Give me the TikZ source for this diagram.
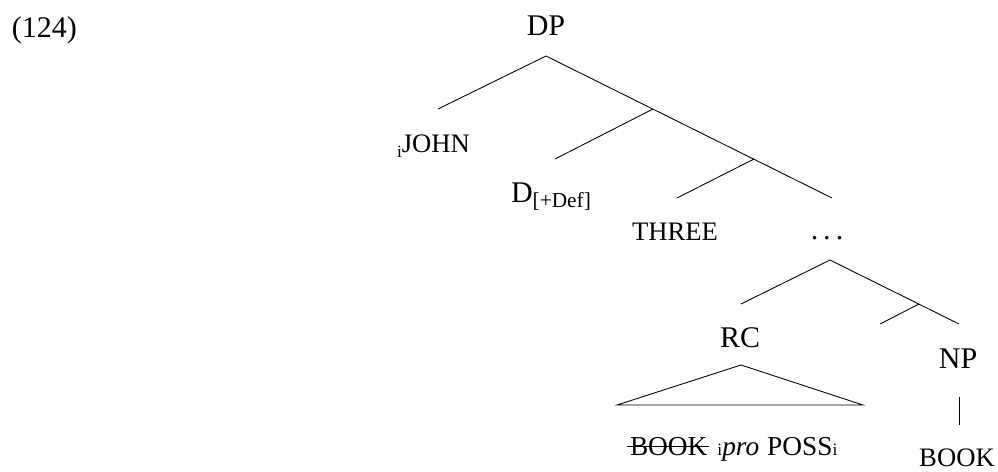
\documentclass[tikz,border=0pt]{standalone}
\usepackage{fontspec}
\setmainfont{Liberation Serif}
\newcommand\bigf{\fontsize{22.5}{27}\selectfont}
\newcommand\scf{\fontsize{20}{24}\selectfont}
\newcommand\botf{\fontsize{20.5}{24}\selectfont}
\newcommand\subf{\fontsize{13}{15}\selectfont}
\newcommand\midsubf{\fontsize{16}{19}\selectfont}
\newcommand\mystrike[1]{\sbox0{#1}\rlap{\hspace{-2pt}\rule[0.3em]{\dimexpr\wd0+3pt\relax}{0.6pt}}\usebox0}
\tikzset{
  lbl/.style={inner sep=0pt, outer sep=0pt},
  edge/.style={line width=0.65pt, black}
}
\begin{document}
\begin{tikzpicture}[x=0.75pt, y=-0.75pt]
\useasboundingbox (0,0) rectangle (998,471);
% labels
\node[lbl, anchor=base west] (ex) at (12,37) {\bigf (124)};
\node[lbl, anchor=base] (dp) at (546,35) {\bigf DP};
\node[lbl, anchor=base west] (john) at (397,152) {\raisebox{-4pt}{\subf i}\scf JOHN};
\node[lbl, anchor=base west] (d) at (511,202) {\bigf D\raisebox{-4pt}{\midsubf [+Def]}};
\node[lbl, anchor=base] (three) at (675,240) {\scf THREE};
\node[lbl, anchor=base] (dots) at (827,239) {\bigf .\,.\,.};
\node[lbl, anchor=base] (rc) at (740,347) {\bigf RC};
\node[lbl, anchor=base] (np) at (958,368) {\bigf NP};
\node[lbl, anchor=base west] (rctext) at (630,455) {\botf\mystrike{BOOK}\hspace{7.5pt}{\subf i}\textit{pro}\hspace{6pt}POSS{\subf i}};
\node[lbl, anchor=base] (book) at (957,466) {\scf BOOK};
% branch points
\coordinate (a1) at (546,56);
\coordinate (e1) at (438,109);
\coordinate (b1) at (653,109);
\coordinate (e2) at (555,159);
\coordinate (b2) at (754,159);
\coordinate (e3) at (677,198);
\coordinate (e4) at (832,198);
\coordinate (a2) at (830,260);
\coordinate (e5) at (741,304);
\coordinate (b3) at (919,304);
\coordinate (e6) at (880,324);
\coordinate (e7) at (959,324);
\coordinate (t1) at (741,365);
\coordinate (t2) at (617,405);
\coordinate (t3) at (863,405);
\coordinate (v1) at (959,397);
\coordinate (v2) at (959,425);
% edges
\draw[edge] (a1) -- (e1);
\draw[edge] (a1) -- (e4);
\draw[edge] (b1) -- (e2);
\draw[edge] (b2) -- (e3);
\draw[edge] (a2) -- (e5);
\draw[edge] (a2) -- (e7);
\draw[edge] (b3) -- (e6);
\draw[edge] (t1) -- (t2) -- (t3) -- cycle;
\draw[edge] (v1) -- (v2);
\end{tikzpicture}
\end{document}
